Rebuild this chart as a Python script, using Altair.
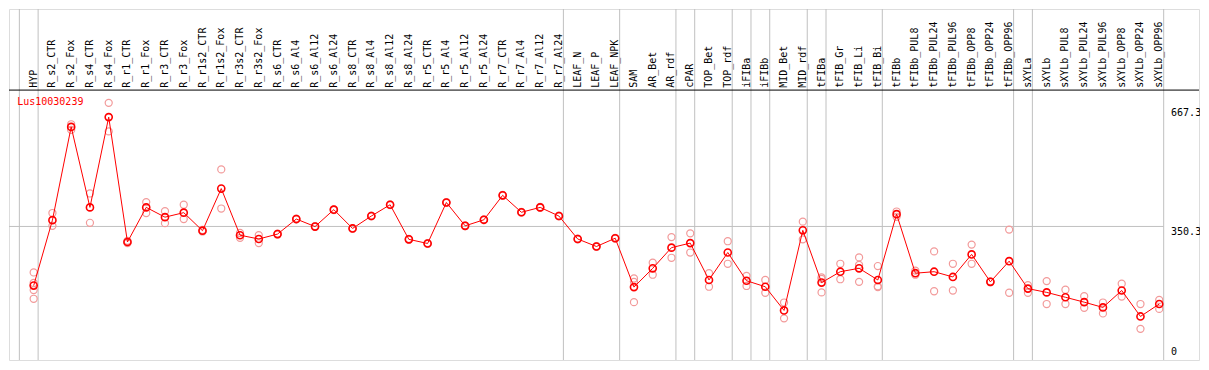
import altair as alt
import pandas as pd

categories = [
    "HYP", "R_s2_CTR", "R_s2_Fox", "R_s4_CTR", "R_s4_Fox", "R_r1_CTR", "R_r1_Fox",
    "R_r3_CTR", "R_r3_Fox", "R_r1s2_CTR", "R_r1s2_Fox", "R_r3s2_CTR", "R_r3s2_Fox",
    "R_s6_CTR", "R_s6_Al4", "R_s6_Al12", "R_s6_Al24", "R_s8_CTR", "R_s8_Al4",
    "R_s8_Al12", "R_s8_Al24", "R_r5_CTR", "R_r5_Al4", "R_r5_Al12", "R_r5_Al24",
    "R_r7_CTR", "R_r7_Al4", "R_r7_Al12", "R_r7_Al24", "LEAF_N", "LEAF_P", "LEAF_NPK",
    "SAM", "AR_Bet", "AR_rdf", "cPAR", "TOP_Bet", "TOP_rdf", "iFIBa", "iFIBb",
    "MID_Bet", "MID_rdf", "tFIBa", "tFIB_Gr", "tFIB_Li", "tFIB_Bi", "tFIBb",
    "tFIBb_PUL8", "tFIBb_PUL24", "tFIBb_PUL96", "tFIBb_OPP8", "tFIBb_OPP24",
    "tFIBb_OPP96", "sXYLa", "sXYLb", "sXYLb_PUL8", "sXYLb_PUL24", "sXYLb_PUL96",
    "sXYLb_OPP8", "sXYLb_OPP24", "sXYLb_OPP96",
]

means = [
    193, 367, 615, 401, 641, 309, 401, 375, 387, 339, 451, 327, 317,
    330, 370, 350, 395, 345, 378, 408, 316, 305, 414, 352, 368,
    433, 388, 401, 378, 317, 297, 319,
    189, 239, 294, 306, 208, 281, 206, 190, 127, 340,
    201, 230, 239, 208, 383, 226, 230, 216, 276, 203, 258,
    185, 175, 162, 149, 135, 180, 111, 144,
]

replicates = [
    [228, 200, 181, 158], [386, 352], [622, 607], [438, 360], [679, 603],
    [312, 306], [415, 386], [391, 359], [408, 370], [341, 337], [502, 398],
    [333, 320], [327, 306], [331, 329], [371, 369], [351, 349], [396, 394],
    [346, 344], [379, 377], [409, 407], [317, 315], [306, 304], [415, 413],
    [353, 351], [369, 367], [434, 432], [389, 387], [402, 400], [379, 377],
    [318, 316], [298, 296], [320, 318],
    [212, 203, 149], [254, 222], [322, 267], [332, 281], [226, 190], [311, 251],
    [219, 192], [208, 174], [148, 106], [363, 316],
    [215, 211, 175], [251, 210], [268, 248, 203], [245, 191, 189], [390, 376],
    [233, 222], [284, 178], [251, 180], [302, 251], [204, 202], [342, 174],
    [194, 174], [205, 144], [182, 144], [165, 134], [148, 119], [198, 164],
    [144, 78], [155, 131],
]

separators = [-1, 0, 28, 31, 34, 35, 37, 38, 39, 41, 42, 45, 52, 53, 60]
y_tick_values = [667.3, 350.3]
y_tick_labels = ["667.3", "350.3"]
zero_label = ["0"]
title_text = "Lus10030239"

X_DOM = [-1.315, 62.12]
Y_DOM = [-4.8, 928.5]
xs = alt.Scale(domain=X_DOM, nice=False, zero=False)
ys = alt.Scale(domain=Y_DOM, nice=False, zero=False)
FONT = "DejaVu Sans Mono"
GRID = "#c0c0c0"

idx = list(range(len(categories)))
mean_df = pd.DataFrame({"idx": idx, "cat": categories, "mean": means,
                        "ly": [719.0] * len(categories)})
rep_rows = []
for i, reps in enumerate(replicates):
    for r in reps:
        rep_rows.append({"idx": i, "val": r})
rep_df = pd.DataFrame(rep_rows)
sep_df = pd.DataFrame({"sx": [s + 0.237 for s in separators]})
tick_df = pd.DataFrame({"v": y_tick_values, "t": y_tick_labels,
                        "tx": [60.63] * len(y_tick_values)})
zero_df = pd.DataFrame({"v": [0.0], "t": zero_label, "tx": [60.63]})
title_df = pd.DataFrame({"tx": [-0.878], "v": [682.5], "t": [title_text]})
hgrid_df = pd.DataFrame({"x1": [X_DOM[0]], "x2": [60.237], "v": [350.3]})
sepline_df = pd.DataFrame({"v": [712.9]})

vgrid = alt.Chart(sep_df).mark_rule(color=GRID, strokeWidth=1).encode(
    x=alt.X("sx:Q", scale=xs, axis=None))
hgrid = alt.Chart(hgrid_df).mark_rule(color=GRID, strokeWidth=1).encode(
    x=alt.X("x1:Q", scale=xs, axis=None), x2="x2:Q",
    y=alt.Y("v:Q", scale=ys, axis=None))
sepline = alt.Chart(sepline_df).mark_rule(color="black", strokeWidth=1).encode(
    y=alt.Y("v:Q", scale=ys, axis=None))

labels = alt.Chart(mean_df).mark_text(
    angle=270, align="left", baseline="middle", font=FONT, fontSize=10,
    color="black").encode(
    x=alt.X("idx:Q", scale=xs, axis=None),
    y=alt.Y("ly:Q", scale=ys, axis=None),
    text="cat:N")

reps_layer = alt.Chart(rep_df).mark_point(
    shape="circle", filled=False, color="#f29a9a", strokeWidth=1.2, size=50,
    opacity=1).encode(
    x=alt.X("idx:Q", scale=xs, axis=None),
    y=alt.Y("val:Q", scale=ys, axis=None))

line = alt.Chart(mean_df).mark_line(color="#ff0000", strokeWidth=1).encode(
    x=alt.X("idx:Q", scale=xs, axis=None),
    y=alt.Y("mean:Q", scale=ys, axis=None),
    order="idx:Q")

mean_pts = alt.Chart(mean_df).mark_point(
    shape="circle", filled=False, color="#ff0000", strokeWidth=1.6, size=50,
    opacity=1).encode(
    x=alt.X("idx:Q", scale=xs, axis=None),
    y=alt.Y("mean:Q", scale=ys, axis=None))

ticks = alt.Chart(tick_df).mark_text(
    align="left", baseline="top", dy=1, font=FONT, fontSize=10, color="black").encode(
    x=alt.X("tx:Q", scale=xs, axis=None),
    y=alt.Y("v:Q", scale=ys, axis=None),
    text="t:N")
zero_tick = alt.Chart(zero_df).mark_text(
    align="left", baseline="bottom", dy=-1, font=FONT, fontSize=10, color="black").encode(
    x=alt.X("tx:Q", scale=xs, axis=None),
    y=alt.Y("v:Q", scale=ys, axis=None),
    text="t:N")
title = alt.Chart(title_df).mark_text(
    align="left", baseline="middle", font=FONT, fontSize=10, color="#ff0000").encode(
    x=alt.X("tx:Q", scale=xs, axis=None),
    y=alt.Y("v:Q", scale=ys, axis=None),
    text="t:N")

chart = alt.layer(
    vgrid, hgrid, sepline, labels, reps_layer, line, mean_pts, ticks, zero_tick, title
).properties(
    width=1190, height=351, padding=1,
    autosize=alt.AutoSizeParams(type="none"),
).configure_view(stroke="black", strokeWidth=1).configure(background="white")

chart.save("out.html", embed_options={"renderer": "svg", "actions": False})
